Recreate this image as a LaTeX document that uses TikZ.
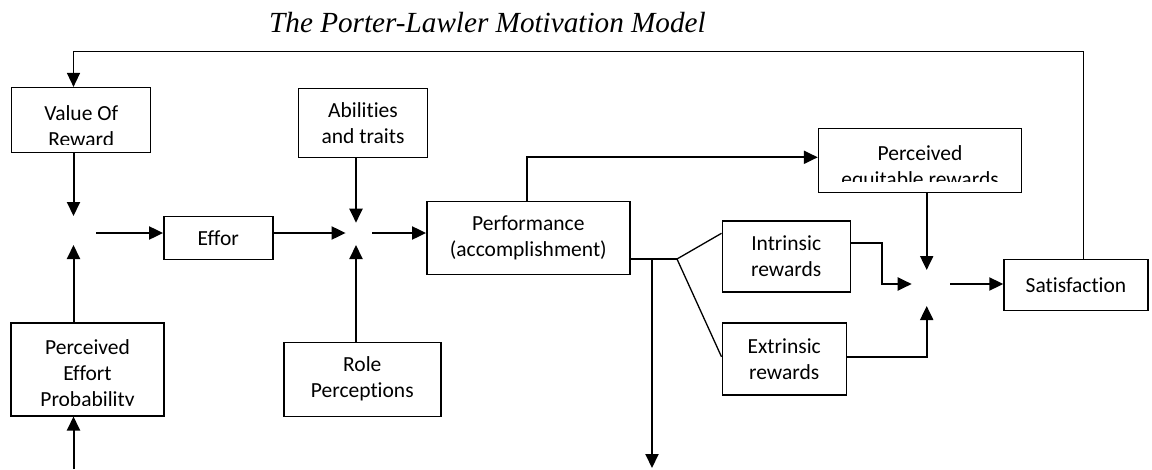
\documentclass[tikz,border=0pt]{standalone}
\usepackage{fontspec}
\setmainfont{Carlito}[Ligatures=NoCommon]
\newfontfamily\titlefont{Liberation Serif}
\usetikzlibrary{arrows.meta}

\tikzset{
  box/.style={draw, line width=1.4pt, rectangle, inner sep=0pt, align=center, font=\fontsize{21.5pt}{26pt}\selectfont},
  boxtext/.style={inner sep=0pt, align=center, font=\fontsize{21.5pt}{26pt}\selectfont},
  cutbox/.style n args={4}{box, path picture={%
      \clip ([yshift=#2]path picture bounding box.south west) rectangle (path picture bounding box.north east);%
      \node[boxtext] (#1) at ([yshift=#3]path picture bounding box.center) {#4};}},
  flow/.style={line width=2pt, -{Triangle[length=14pt,width=13pt]}},
  link/.style={line width=1.3pt},
}

\begin{document}
\begin{tikzpicture}[x=1pt, y=-1pt]%
\useasboundingbox (0,0) rectangle (1152,469);%
\node[anchor=base west, inner sep=0pt, font=\titlefont\itshape\fontsize{29.2pt}{31pt}\selectfont] (title) at (269,32.3) {The Porter-Lawler Motivation Model};%
% boxes
\node[cutbox={valuetext}{8pt}{-5.6pt}{Value Of\\Reward}, minimum width=139pt, minimum height=65pt] (value) at (81.2,120.1) {};%
\node[cutbox={probtext}{10pt}{-5.2pt}{Perceived\\Effort\\Probability}, minimum width=153pt, minimum height=93pt] (prob) at (87.5,369.3) {};%
\node[box, minimum width=109pt, minimum height=43pt] (effort) at (218.3,238) {Effor};%
\node[box, minimum width=129pt, minimum height=69pt] (abil) at (363,122.7) {Abilities\\and traits};%
\node[box, minimum width=157pt, minimum height=74pt] (role) at (362.3,379.2) {Role\\Perceptions};%
\node[box, minimum width=203pt, minimum height=73pt] (perf) at (528.3,237.7) {Performance\\(accomplishment)};%
\node[cutbox={equittext}{10.5pt}{-7.2pt}{Perceived\\equitable rewards}, minimum width=203pt, minimum height=64pt] (equit) at (920,160.3) {};%
\node[box, minimum width=128pt, minimum height=71pt] (intr) at (786.2,256.3) {Intrinsic\\rewards};%
\node[box, minimum width=124pt, minimum height=72pt] (extr) at (784.2,358.8) {Extrinsic\\rewards};%
\node[box, minimum width=144pt, minimum height=51pt] (satis) at (1076,284.7) {Satisfaction};%
% meeting points
\coordinate (j1) at (73.5,233);%
\coordinate (j2) at (356,233);%
\coordinate (j3) at (926.7,284);%
\coordinate (top) at (73.5,51.7);%
\coordinate (bottom) at (73.5,469);%
\coordinate (fork) at (677,259);%
\coordinate (split) at (652,259);%
\coordinate (outcome) at (652,468);%
% connectors
\draw[flow, line width=1.5pt] ([xshift=7.3pt]satis.north) |- (top) -- (top |- value.north);%
\draw[flow] (value.south -| j1) -- ([yshift=17pt]j1);%
\draw[flow] (bottom) -- (prob.south -| bottom);%
\draw[flow] (prob.north -| j1) -- ([yshift=-12pt]j1);%
\draw[flow] ([xshift=22.5pt]j1) -- (effort.west |- j1);%
\draw[flow] (effort.east |- j2) -- ([xshift=-10.4pt]j2);%
\draw[flow] (abil.south -| j2) -- ([yshift=10.3pt]j2);%
\draw[flow] (role.north -| j2) -- ([yshift=-12pt]j2);%
\draw[flow] ([xshift=16.4pt]j2) -- (perf.west |- j2);%
\draw[flow] ([xshift=-1.6pt]perf.north) |- ([yshift=3pt]equit.west);%
\draw[link, line width=1.6pt] (perf.east |- fork) -- (fork);%
\draw[flow] (split) -- (outcome);%
\draw[link] (fork) -- ([yshift=23pt]intr.west);%
\draw[link] (fork) -- ([yshift=2pt]extr.west);%
\draw[flow] ([yshift=13pt]intr.east) -| ([xshift=-45pt]j3) -- ([xshift=-15pt]j3);%
\draw[flow] (equit.south -| j3) -- ([yshift=14pt]j3);%
\draw[flow] ([yshift=2pt]extr.east) -| ([yshift=-22pt]j3);%
\draw[flow] ([xshift=23.3pt]j3) -- (satis.west |- j3);%
\end{tikzpicture}
\end{document}
